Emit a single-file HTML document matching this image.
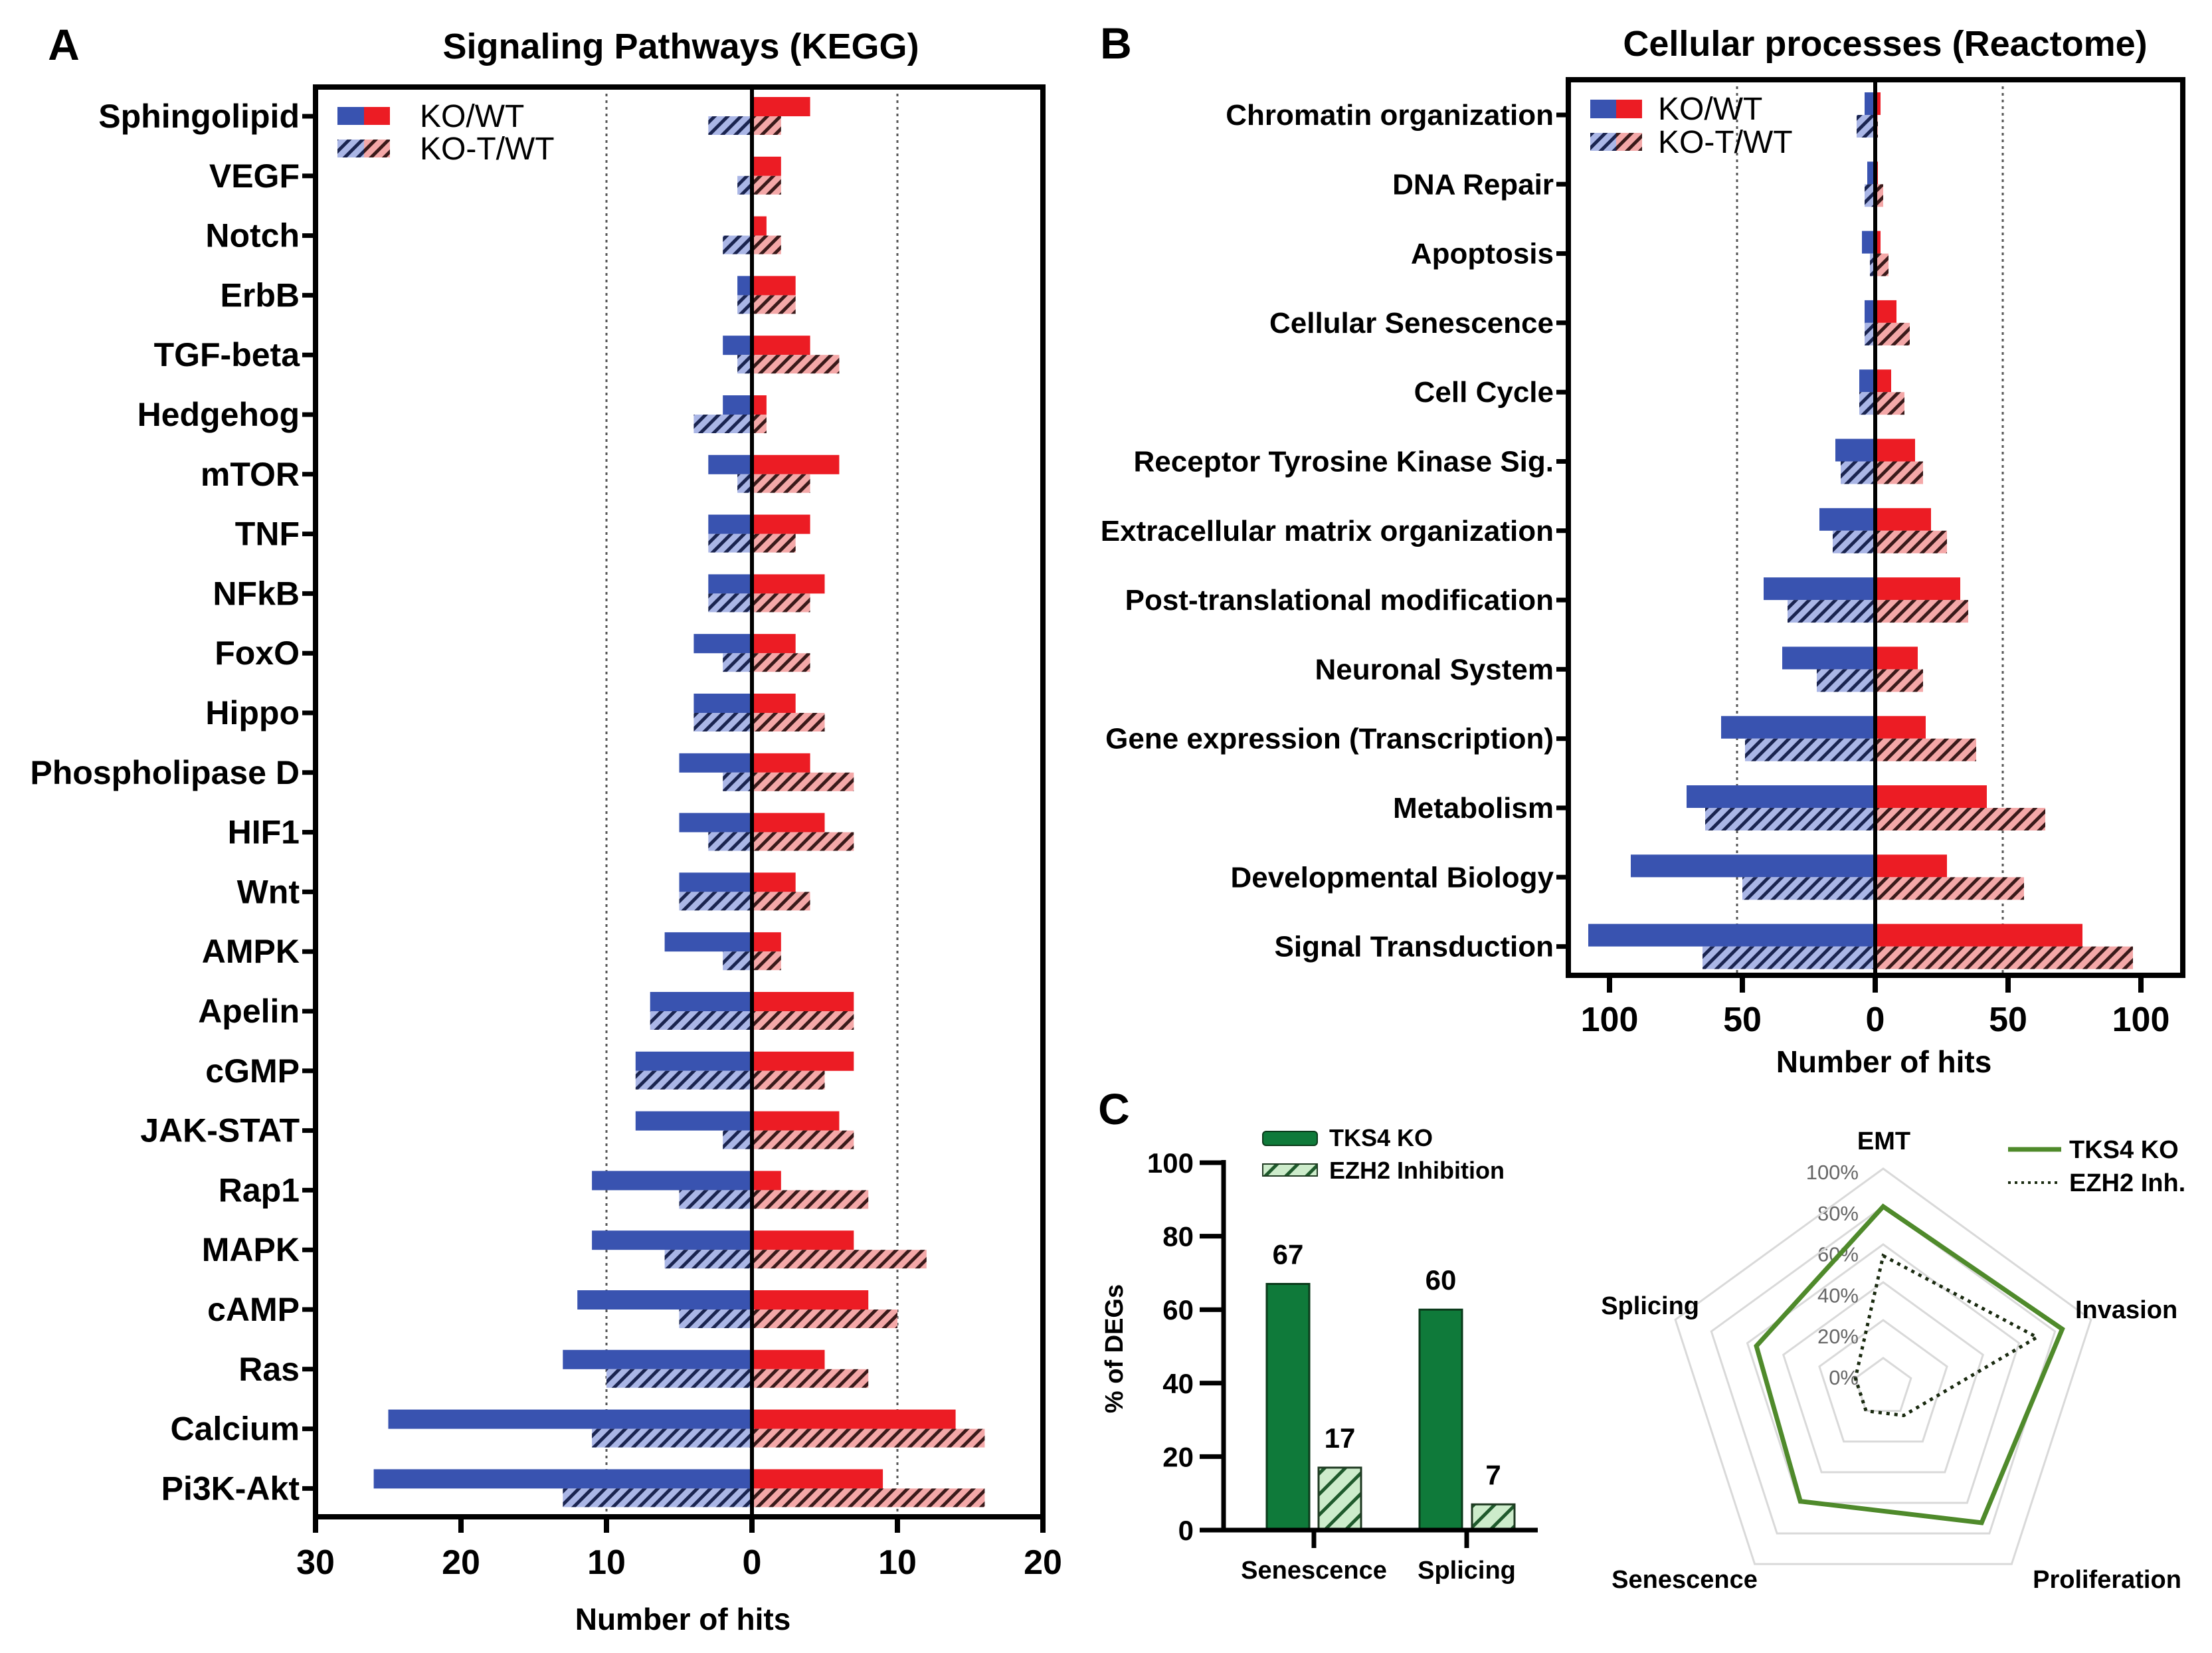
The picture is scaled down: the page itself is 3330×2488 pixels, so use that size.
<!DOCTYPE html>
<html><head><meta charset="utf-8"><title>Pathway analysis figure</title>
<style>
html,body{margin:0;padding:0;background:#fff;}
svg{display:block;}
text{font-family:"Liberation Sans Narrow","Liberation Sans",sans-serif;}
</style></head>
<body>
<svg id="fig" xmlns="http://www.w3.org/2000/svg" width="3330" height="2488" viewBox="0 0 3330 2488">
<defs>
<pattern id="hatchBlue" patternUnits="userSpaceOnUse" width="14" height="14" patternTransform="rotate(45)">
<rect width="14" height="14" fill="#aab6e6"/><rect x="0" y="0" width="5" height="14" fill="#1a2450"/></pattern>
<pattern id="hatchRed" patternUnits="userSpaceOnUse" width="14" height="14" patternTransform="rotate(45)">
<rect width="14" height="14" fill="#f4a8a8"/><rect x="0" y="0" width="5" height="14" fill="#3a1a1a"/></pattern>
<pattern id="hatchGreen" patternUnits="userSpaceOnUse" width="22" height="22" patternTransform="rotate(45)">
<rect width="22" height="22" fill="#cdeccb"/><rect x="0" y="0" width="5" height="22" fill="#1f5a2c"/></pattern>
</defs>
<g id="gA"></g>
<g id="gB"></g>
<g id="gC"></g>
<g id="gR"></g>
</svg>
<script>
// ---------- Panel A data ----------
const aCats = ["Sphingolipid","VEGF","Notch","ErbB","TGF-beta","Hedgehog","mTOR","TNF","NFkB","FoxO","Hippo","Phospholipase D","HIF1","Wnt","AMPK","Apelin","cGMP","JAK-STAT","Rap1","MAPK","cAMP","Ras","Calcium","Pi3K-Akt"];
const aKoDown = [0,0,0,1,2,2,3,3,3,4,4,5,5,5,6,7,8,8,11,11,12,13,25,26];
const aKoUp = [4,2,1,3,4,1,6,4,5,3,3,4,5,3,2,7,7,6,2,7,8,5,14,9];
const aKotDown = [3,1,2,1,1,4,1,3,3,2,4,2,3,5,2,7,8,2,5,6,5,10,11,13];
const aKotUp = [2,2,2,3,6,1,4,3,4,4,5,7,7,4,2,7,5,7,8,12,10,8,16,16];
const aTicks = [-30,-20,-10,0,10,20];
// ---------- Panel B data ----------
const bCats = ["Chromatin organization","DNA Repair","Apoptosis","Cellular Senescence","Cell Cycle","Receptor Tyrosine Kinase Sig.","Extracellular matrix organization","Post-translational modification","Neuronal System","Gene expression (Transcription)","Metabolism","Developmental Biology","Signal Transduction"];
const bKoDown = [4,3,5,4,6,15,21,42,35,58,71,92,108];
const bKoUp = [2,1,2,8,6,15,21,32,16,19,42,27,78];
const bKotDown = [7,4,2,4,6,13,16,33,22,49,64,50,65];
const bKotUp = [1,3,5,13,11,18,27,35,18,38,64,56,97];
const bTicks = [-100,-50,0,50,100];
// ---------- Panel C bar data ----------
const cCats = ["Senescence","Splicing"];
const cTks4 = [67,60];
const cEzh2 = [17,7];
const cTicks = [0,20,40,60,80,100];
// ---------- Panel C radar data ----------
const rAxes = ["EMT","Invasion","Proliferation","Senescence","Splicing"];
const rTks4 = [0.80,0.84,0.73,0.59,0.55];
const rEzh2 = [0.54,0.70,0.03,0.0,0.0];
const rTicks = [0,0.2,0.4,0.6,0.8,1.0];

const NS="http://www.w3.org/2000/svg";
function mk(parent,tag,attrs,txt){const e=document.createElementNS(NS,tag);for(const k in attrs)e.setAttribute(k,attrs[k]);if(txt!==undefined)e.textContent=txt;parent.appendChild(e);return e;}

// ======== Panel A ========
(function(){
const g=document.getElementById('gA');
const x=v=>1132+v*21.9;
const y=i=>175+i*89.8;
const L=475,R=1570,T=131,B=2283;
let e;
e=mk(g,'text',{x:96,y:90,'font-size':66,'font-weight':'bold','font-family':'Liberation Sans',"text-anchor":"middle"},'A');


e=mk(g,'text',{x:1025,y:88,'font-size':54,'font-weight':'bold',"text-anchor":"middle"},'Signaling Pathways (KEGG)');


[-10,10].forEach(v=>{
  e=mk(g,'line',{x1:x(v),x2:x(v),y1:T,y2:B,stroke:'#555','stroke-width':3,'stroke-dasharray':'4 6'});
  
  
});
aCats.forEach((c,i)=>{
  const cy=y(i);
  e=mk(g,'rect',{x:x(-aKoDown[i]),y:cy-29,width:aKoDown[i]*21.9,height:29,fill:'#3953b0'});
  
  
  e=mk(g,'rect',{x:x(0),y:cy-29,width:aKoUp[i]*21.9,height:29,fill:'#ec1c24'});
  
  
  e=mk(g,'rect',{x:x(-aKotDown[i]),y:cy,width:aKotDown[i]*21.9,height:28,fill:'url(#hatchBlue)'});
  
  
  e=mk(g,'rect',{x:x(0),y:cy,width:aKotUp[i]*21.9,height:28,fill:'url(#hatchRed)'});
  
  
  e=mk(g,'line',{x1:L-20,x2:L,y1:cy,y2:cy,stroke:'#000','stroke-width':7});
  
  
  e=mk(g,'text',{x:L-24,y:cy+17,'font-size':50,'font-weight':'bold',"text-anchor":"end"},c);
  
  
});
e=mk(g,'line',{x1:x(0),x2:x(0),y1:T,y2:B,stroke:'#000','stroke-width':6});


e=mk(g,'rect',{x:L,y:T,width:R-L,height:B-T,fill:'none',stroke:'#000','stroke-width':8});


aTicks.forEach(v=>{
  e=mk(g,'line',{x1:x(v),x2:x(v),y1:B,y2:B+24,stroke:'#000','stroke-width':8});
  
  
  e=mk(g,'text',{x:x(v),y:2369,'font-size':52,'font-weight':'bold',"text-anchor":"middle"},String(Math.abs(v)));
  
  
});
e=mk(g,'text',{x:1028,y:2453,'font-size':46,'font-weight':'bold',"text-anchor":"middle"},'Number of hits');


e=mk(g,'rect',{x:508,y:161,width:40,height:27,fill:'#3953b0'});


e=mk(g,'rect',{x:548,y:161,width:39,height:27,fill:'#ec1c24'});


e=mk(g,'rect',{x:508,y:210,width:40,height:27,fill:'url(#hatchBlue)'});


e=mk(g,'rect',{x:548,y:210,width:39,height:27,fill:'url(#hatchRed)'});


e=mk(g,'text',{x:632,y:191,'font-size':48},'KO/WT');


e=mk(g,'text',{x:632,y:240,'font-size':48},'KO-T/WT');


})();

// ======== Panel B ========
(function(){
const g=document.getElementById('gB');
const x=v=>2823+v*4.0;
const y=i=>173+i*104.3;
const L=2361,R=3286,T=120,B=1468;
let e;
e=mk(g,'text',{x:1680,y:88,'font-size':66,'font-weight':'bold','font-family':'Liberation Sans',"text-anchor":"middle"},'B');


e=mk(g,'text',{x:2838,y:84,'font-size':54,'font-weight':'bold',"text-anchor":"middle"},'Cellular processes (Reactome)');


[-50,50].forEach(v=>{
  e=mk(g,'line',{x1:x(v)-8,x2:x(v)-8,y1:T,y2:B,stroke:'#555','stroke-width':3,'stroke-dasharray':'4 6'});
  
  
});
bCats.forEach((c,i)=>{
  const cy=y(i);
  e=mk(g,'rect',{x:x(-bKoDown[i]),y:cy-34,width:bKoDown[i]*4,height:34,fill:'#3953b0'});
  
  
  e=mk(g,'rect',{x:x(0),y:cy-34,width:bKoUp[i]*4,height:34,fill:'#ec1c24'});
  
  
  e=mk(g,'rect',{x:x(-bKotDown[i]),y:cy,width:bKotDown[i]*4,height:34,fill:'url(#hatchBlue)'});
  
  
  e=mk(g,'rect',{x:x(0),y:cy,width:bKotUp[i]*4,height:34,fill:'url(#hatchRed)'});
  
  
  e=mk(g,'line',{x1:L-18,x2:L,y1:cy,y2:cy,stroke:'#000','stroke-width':7});
  
  
  e=mk(g,'text',{x:L-22,y:cy+15,'font-size':44,'font-weight':'bold',"text-anchor":"end"},c);
  
  
});
e=mk(g,'line',{x1:x(0),x2:x(0),y1:T,y2:B,stroke:'#000','stroke-width':6});


e=mk(g,'rect',{x:L,y:T,width:R-L,height:B-T,fill:'none',stroke:'#000','stroke-width':8});


bTicks.forEach(v=>{
  e=mk(g,'line',{x1:x(v),x2:x(v),y1:B,y2:B+26,stroke:'#000','stroke-width':8});
  
  
  e=mk(g,'text',{x:x(v),y:1552,'font-size':52,'font-weight':'bold',"text-anchor":"middle"},String(Math.abs(v)));
  
  
});
e=mk(g,'text',{x:2836,y:1614,'font-size':46,'font-weight':'bold',"text-anchor":"middle"},'Number of hits');


e=mk(g,'rect',{x:2394,y:150,width:39,height:28,fill:'#3953b0'});


e=mk(g,'rect',{x:2433,y:150,width:39,height:28,fill:'#ec1c24'});


e=mk(g,'rect',{x:2394,y:200,width:39,height:27,fill:'url(#hatchBlue)'});


e=mk(g,'rect',{x:2433,y:200,width:39,height:27,fill:'url(#hatchRed)'});


e=mk(g,'text',{x:2496,y:180,'font-size':48},'KO/WT');


e=mk(g,'text',{x:2496,y:230,'font-size':48},'KO-T/WT');


})();

// ======== Panel C bars ========
(function(){
const g=document.getElementById('gC');
const y=v=>2303-v*5.53;
const ax=1842;
const solidX=[1907,2137], hatchX=[1985,2216], bw=64, tickX=[1978,2208];
let e;
e=mk(g,'text',{x:1677,y:1692,'font-size':66,'font-weight':'bold','font-family':'Liberation Sans',"text-anchor":"middle"},'C');


cCats.forEach((c,i)=>{
  e=mk(g,'rect',{x:solidX[i],y:y(cTks4[i]),width:bw,height:cTks4[i]*5.53,fill:'#0f7a3a',stroke:'#0a3a1a','stroke-width':3});
  
  
  e=mk(g,'rect',{x:hatchX[i],y:y(cEzh2[i]),width:bw,height:cEzh2[i]*5.53,fill:'url(#hatchGreen)',stroke:'#1f3a22','stroke-width':3});
  
  
  e=mk(g,'text',{x:solidX[i]+bw/2,y:y(cTks4[i])-30,'font-size':42,'font-weight':'bold',"text-anchor":"middle"},String(cTks4[i]));
  
  
  e=mk(g,'text',{x:hatchX[i]+bw/2,y:y(cEzh2[i])-30,'font-size':42,'font-weight':'bold',"text-anchor":"middle"},String(cEzh2[i]));
  
  
  e=mk(g,'line',{x1:tickX[i],x2:tickX[i],y1:2303,y2:2330,stroke:'#000','stroke-width':7});
  
  
  e=mk(g,'text',{x:tickX[i],y:2376,'font-size':38,'font-weight':'bold','font-family':'Liberation Sans',"text-anchor":"middle"},c);
  
  
});
cTicks.forEach(v=>{
  e=mk(g,'line',{x1:ax-36,x2:ax,y1:y(v),y2:y(v),stroke:'#000','stroke-width':7});
  
  
  e=mk(g,'text',{x:ax-45,y:y(v)+15,'font-size':42,'font-weight':'bold',"text-anchor":"end"},String(v));
  
  
});
e=mk(g,'line',{x1:ax,x2:ax,y1:y(100)-4,y2:2306,stroke:'#000','stroke-width':7});


e=mk(g,'line',{x1:1806,x2:2315,y1:2303,y2:2303,stroke:'#000','stroke-width':7});


e=mk(g,'text',{x:1690,y:2030,'font-size':38,'font-weight':'bold','font-family':'Liberation Sans',"text-anchor":"middle",transform:'rotate(-90 1690 2030)'},'% of DEGs');


e=mk(g,'rect',{x:1901,y:1703,width:82,height:21,rx:5,fill:'#0f7a3a',stroke:'#0a3a1a','stroke-width':2});


e=mk(g,'rect',{x:1901,y:1752,width:82,height:18,fill:'url(#hatchGreen)',stroke:'#1f3a22','stroke-width':2});


e=mk(g,'text',{x:2001,y:1725,'font-size':36,'font-weight':'bold','font-family':'Liberation Sans'},'TKS4 KO');


e=mk(g,'text',{x:2001,y:1774,'font-size':36,'font-weight':'bold','font-family':'Liberation Sans'},'EZH2 Inhibition');


})();

// ======== Panel C radar ========
(function(){
const g=document.getElementById('gR');
const cx=2835, cy=2088, r0=44, R=329;
const rad=p=>r0+p*(R-r0);
const pt=(k,p)=>{const a=-Math.PI/2+k*2*Math.PI/5;const r=rad(p);return [cx+r*Math.cos(a),cy+r*Math.sin(a)];};
let e;
rTicks.forEach(t=>{
  const pts=rAxes.map((a,k)=>pt(k,t).join(',')).join(' ');
  e=mk(g,'polygon',{points:pts,fill:'none',stroke:'#d9d9d9','stroke-width':3});
  
  
  e=mk(g,'text',{x:2798,y:2084-t*309,'font-size':31,fill:'#666',"text-anchor":"end"},Math.round(t*100)+'%');
  
  
});
e=mk(g,'polygon',{points:rAxes.map((a,k)=>pt(k,rTks4[k]).join(',')).join(' '),fill:'none',stroke:'#4f8a2b','stroke-width':7,'stroke-linejoin':'miter'});


e=mk(g,'polygon',{points:rAxes.map((a,k)=>pt(k,rEzh2[k]).join(',')).join(' '),fill:'none',stroke:'#1a2a10','stroke-width':5,'stroke-dasharray':'5 7'});


const lpos=[[2836,1730,'middle'],[3124,1984,'start'],[3172,2390,'middle'],[2536,2390,'middle'],[2558,1978,'end']];
rAxes.forEach((a,k)=>{
  e=mk(g,'text',{x:lpos[k][0],y:lpos[k][1],'font-size':38,'font-weight':'bold',"text-anchor":lpos[k][2]},a);
  
  
});
e=mk(g,'line',{x1:3023,x2:3103,y1:1730,y2:1730,stroke:'#4f8a2b','stroke-width':7});


e=mk(g,'line',{x1:3023,x2:3103,y1:1780,y2:1780,stroke:'#1a2a10','stroke-width':4,'stroke-dasharray':'4 6'});


e=mk(g,'text',{x:3115,y:1743,'font-size':38,'font-weight':'bold'},'TKS4 KO');


e=mk(g,'text',{x:3115,y:1793,'font-size':38,'font-weight':'bold'},'EZH2 Inh.');


})();
</script>
</body></html>
